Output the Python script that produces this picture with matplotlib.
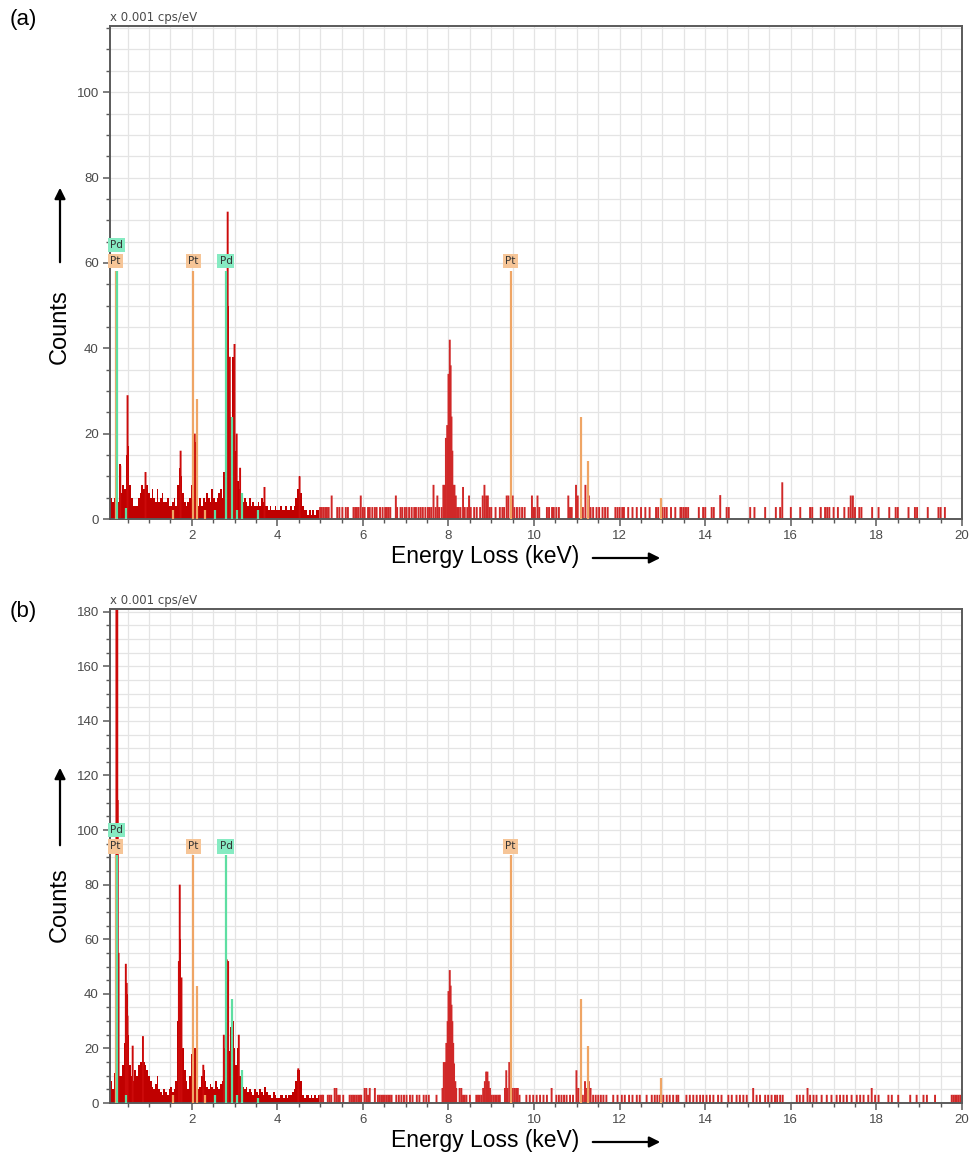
import numpy as np
import matplotlib
matplotlib.use("Agg")
import matplotlib.pyplot as plt
from matplotlib.patches import FancyArrowPatch
from matplotlib.ticker import MultipleLocator

plt.rcParams['font.family'] = ['Liberation Sans', 'DejaVu Sans']

# ---------------- data ----------------
CONT_START = 0.12   # keV of first continuum channel
CONT_STEP = 0.04    # keV per continuum channel

# panel (a): continuum counts 0.12 .. 4.96 keV
a_cont = [5, 4, 5, 7, 4, 13, 6, 8, 7, 15, 17, 8, 5, 3, 3, 3, 5, 6, 8, 7,
          11, 8, 6, 5, 7, 5, 4, 7, 4, 5, 6, 4, 4, 5, 3, 3, 4, 5, 3, 8,
          12, 10, 6, 4, 3, 4, 5, 8, 20, 18, 6, 3, 5, 3, 5, 4, 6, 5, 4, 7,
          5, 4, 5, 6, 7, 5, 11, 40, 50, 36, 24, 38, 22, 16, 9, 7, 6, 4, 5, 4,
          3, 5, 3, 4, 3, 3, 4, 3, 5, 4, 3, 3, 2, 3, 2, 2, 3, 2, 2, 3,
          2, 2, 3, 2, 2, 3, 2, 3, 5, 7, 10, 6, 3, 2, 2, 1, 2, 1, 2, 1,
          2, 2]
# panel (a): single-channel spikes
a_spike_keV = [0.33, 0.50, 0.92, 1.74, 2.03, 2.07, 2.82, 2.84, 2.89, 3.00,
               3.05, 3.13, 3.70, 4.52]
a_spike_cts = [12.5, 29, 11, 16, 23, 20, 54, 72, 38, 41, 20, 12, 7.5, 10]
# panel (a): channels above 5 keV (keV, counts)
a_tail = [(5.00, 2.8), (5.04, 2.8), (5.08, 2.8), (5.12, 2.8), (5.16, 2.8), (5.20, 2.8),
          (5.27, 5.5), (5.40, 2.8), (5.45, 2.8), (5.52, 2.8), (5.60, 2.8), (5.65, 2.8),
          (5.78, 2.8), (5.82, 2.8), (5.86, 2.8), (5.90, 2.8), (5.95, 5.5), (6.00, 2.8),
          (6.04, 2.8), (6.12, 2.8), (6.16, 2.8), (6.22, 2.8), (6.28, 2.8), (6.32, 2.8),
          (6.40, 2.8), (6.46, 2.8), (6.52, 2.8), (6.56, 2.8), (6.60, 2.8), (6.64, 2.8),
          (6.77, 5.5), (6.80, 2.8), (6.88, 2.8), (6.92, 2.8), (6.98, 2.8), (7.02, 2.8),
          (7.08, 2.8), (7.14, 2.8), (7.20, 2.8), (7.24, 2.8), (7.30, 2.8), (7.35, 2.8),
          (7.40, 2.8), (7.46, 2.8), (7.52, 2.8), (7.56, 2.8), (7.60, 2.8), (7.65, 8),
          (7.70, 2.8), (7.74, 5.5), (7.78, 2.8), (7.84, 2.8), (7.88, 8), (7.91, 8),
          (7.94, 19), (7.97, 22), (8.00, 34), (8.03, 42), (8.05, 36), (8.07, 24),
          (8.09, 16), (8.11, 8), (8.14, 8), (8.17, 5.5), (8.20, 2.8), (8.24, 2.8),
          (8.28, 2.8), (8.34, 7.5), (8.38, 2.8), (8.44, 2.8), (8.48, 5.5), (8.52, 2.8),
          (8.60, 2.8), (8.66, 2.8), (8.74, 2.8), (8.80, 5.5), (8.84, 8), (8.88, 5.5),
          (8.92, 5.5), (8.96, 2.8), (9.00, 2.8), (9.10, 2.8), (9.20, 2.8), (9.26, 2.8),
          (9.30, 2.8), (9.36, 5.5), (9.40, 5.5), (9.46, 11), (9.50, 5.5), (9.54, 2.8),
          (9.60, 2.8), (9.66, 2.8), (9.72, 2.8), (9.78, 2.8), (9.95, 5.5), (9.98, 2.8),
          (10.02, 2.8), (10.08, 5.5), (10.12, 2.8), (10.30, 2.8), (10.35, 2.8), (10.42, 2.8),
          (10.46, 2.8), (10.52, 2.8), (10.58, 2.8), (10.80, 5.5), (10.84, 2.8), (10.88, 2.8),
          (10.98, 8), (11.02, 5.5), (11.10, 2.8), (11.14, 2.8), (11.20, 8), (11.28, 5.5),
          (11.32, 2.8), (11.38, 2.8), (11.46, 2.8), (11.52, 2.8), (11.60, 2.8), (11.66, 2.8),
          (11.72, 2.8), (11.90, 2.8), (11.95, 2.8), (12.00, 2.8), (12.06, 2.8), (12.10, 2.8),
          (12.20, 2.8), (12.30, 2.8), (12.40, 2.8), (12.50, 2.8), (12.60, 2.8), (12.70, 2.8),
          (12.85, 2.8), (12.90, 2.8), (13.00, 2.8), (13.05, 2.8), (13.10, 2.8), (13.20, 2.8),
          (13.30, 2.8), (13.42, 2.8), (13.45, 2.8), (13.50, 2.8), (13.55, 2.8), (13.60, 2.8),
          (13.85, 2.8), (13.95, 2.8), (14.00, 2.8), (14.15, 2.8), (14.20, 2.8), (14.35, 5.6),
          (14.50, 2.8), (14.55, 2.8), (15.05, 2.8), (15.15, 2.8), (15.40, 2.8), (15.65, 2.8),
          (15.75, 2.8), (15.80, 8.6), (16.00, 2.8), (16.22, 2.8), (16.45, 2.8), (16.50, 2.8),
          (16.70, 2.8), (16.80, 2.8), (16.85, 2.8), (16.90, 2.8), (17.00, 2.8), (17.10, 2.8),
          (17.25, 2.8), (17.35, 2.8), (17.40, 5.5), (17.45, 5.5), (17.50, 2.8), (17.60, 2.8),
          (17.65, 2.8), (17.90, 2.8), (18.05, 2.8), (18.30, 2.8), (18.45, 2.8), (18.50, 2.8),
          (18.75, 2.8), (18.90, 2.8), (18.95, 2.8), (19.20, 2.8), (19.45, 2.8), (19.50, 2.8),
          (19.60, 2.8)]

# panel (b): continuum counts 0.12 .. 4.96 keV
b_cont = [8, 5, 11, 6, 9, 10, 10, 14, 22, 40, 25, 14, 10, 8, 12, 10, 14, 15, 15, 15,
          14, 12, 10, 8, 6, 5, 7, 10, 5, 4, 3, 5, 4, 3, 5, 6, 4, 5, 8, 30,
          60, 45, 20, 12, 8, 5, 10, 18, 28, 20, 10, 5, 6, 10, 12, 8, 6, 5, 7, 6,
          5, 8, 6, 5, 7, 8, 20, 45, 45, 19, 28, 30, 20, 14, 20, 10, 8, 6, 5, 6,
          4, 5, 4, 3, 5, 4, 3, 5, 4, 3, 6, 4, 3, 3, 2, 4, 3, 2, 2, 3,
          3, 2, 3, 2, 3, 3, 4, 5, 8, 12, 12, 8, 3, 2, 3, 3, 2, 3, 2, 3,
          2, 3]
b_spike_keV = [0.24, 0.26, 0.27, 0.29, 0.46, 0.48, 0.50, 0.62, 0.86, 1.70,
               1.72, 1.76, 2.03, 2.27, 2.75, 2.82, 2.85, 2.95, 3.10, 4.49]
b_spike_cts = [181, 181, 111, 55, 51, 44, 32, 21, 24.5, 52,
               80, 46, 31.5, 14, 25, 52.6, 52, 30, 25, 12.7]
b_tail = [(5.00, 3), (5.04, 3), (5.07, 3), (5.18, 3), (5.22, 3), (5.26, 3), (5.34, 5.5),
          (5.38, 5.5), (5.42, 3), (5.46, 3), (5.54, 3), (5.69, 3), (5.73, 3), (5.77, 3),
          (5.81, 3), (5.85, 3), (5.89, 3), (5.93, 3), (5.96, 3), (6.04, 5.5), (6.08, 5.5),
          (6.12, 3), (6.16, 5.5), (6.28, 5.5), (6.35, 3), (6.39, 3), (6.43, 3), (6.47, 3),
          (6.51, 3), (6.55, 3), (6.59, 3), (6.63, 3), (6.67, 3), (6.78, 3), (6.84, 3),
          (6.90, 3), (6.96, 3), (7.02, 3), (7.10, 3), (7.16, 3), (7.26, 3), (7.32, 3),
          (7.42, 3), (7.48, 3), (7.54, 3), (7.72, 3), (7.86, 5.5), (7.89, 15), (7.92, 15),
          (7.95, 22), (7.98, 30), (8.00, 41), (8.03, 48.7), (8.05, 43), (8.07, 36),
          (8.09, 30), (8.11, 22), (8.13, 14.5), (8.16, 8), (8.18, 5.5), (8.26, 5.5),
          (8.30, 5.5), (8.34, 3), (8.38, 3), (8.42, 3), (8.50, 3), (8.65, 3), (8.69, 3),
          (8.73, 3), (8.77, 3), (8.81, 5.5), (8.85, 8), (8.88, 11.5), (8.91, 11.5),
          (8.94, 8), (8.97, 5.5), (9.01, 3), (9.05, 3), (9.09, 3), (9.13, 3), (9.17, 3),
          (9.20, 3), (9.32, 5.5), (9.35, 12), (9.38, 5.5), (9.42, 15), (9.46, 5.5),
          (9.50, 5.5), (9.54, 5.5), (9.58, 5.5), (9.62, 5.5), (9.66, 3), (9.82, 3),
          (9.90, 3), (9.98, 3), (10.06, 3), (10.14, 3), (10.22, 3), (10.30, 3), (10.41, 5.5),
          (10.52, 3), (10.58, 3), (10.64, 3), (10.70, 3), (10.76, 3), (10.84, 3), (10.91, 3),
          (10.99, 12), (11.03, 5.5), (11.09, 5.5), (11.14, 3), (11.19, 8), (11.23, 5.5),
          (11.28, 8), (11.32, 5.5), (11.38, 3), (11.44, 3), (11.50, 3), (11.56, 3),
          (11.62, 3), (11.69, 3), (11.85, 3), (11.95, 3), (12.05, 3), (12.12, 3),
          (12.22, 3), (12.30, 3), (12.40, 3), (12.47, 3), (12.63, 3), (12.75, 3),
          (12.82, 3), (12.88, 3), (12.94, 3), (13.02, 3), (13.10, 3), (13.17, 3),
          (13.25, 3), (13.33, 3), (13.37, 3), (13.56, 3), (13.64, 3), (13.72, 3),
          (13.80, 3), (13.88, 3), (13.95, 3), (14.03, 3), (14.11, 3), (14.19, 3),
          (14.30, 3), (14.38, 3), (14.54, 3), (14.62, 3), (14.73, 3), (14.81, 3),
          (14.89, 3), (14.97, 3), (15.12, 5.5), (15.20, 3), (15.28, 3), (15.40, 3),
          (15.47, 3), (15.55, 3), (15.63, 3), (15.68, 3), (15.75, 3), (15.81, 3),
          (16.14, 3), (16.21, 3), (16.29, 3), (16.39, 5.5), (16.45, 3), (16.53, 3),
          (16.60, 3), (16.72, 3), (16.84, 3), (16.95, 3), (17.07, 3), (17.15, 3),
          (17.23, 3), (17.31, 3), (17.42, 3), (17.54, 3), (17.62, 3), (17.70, 3),
          (17.81, 3), (17.89, 5.5), (17.97, 3), (18.05, 3), (18.28, 3), (18.36, 3),
          (18.51, 3), (18.79, 3), (18.94, 3), (19.10, 3), (19.18, 3), (19.37, 3),
          (19.76, 3), (19.80, 3), (19.84, 3), (19.88, 3), (19.92, 3), (19.96, 3)]

# element markers (keV) and their heights per panel
pt_main_keV = [0.22, 2.04, 9.45]
pd_main_keV = [0.25, 2.80]
pt_minor_keV = [2.12, 11.09, 11.26, 12.96, 1.56, 2.30]
pd_minor_keV = [2.94, 3.17, 0.47, 2.55, 3.05, 3.55]
a_main_height = 58
b_main_height = 91
a_pt_minor = [28, 24, 13.5, 5, 2, 2]
b_pt_minor = [43, 38, 21, 9, 3, 3]
a_pd_minor = [24, 6, 2.5, 2, 2, 2]
b_pd_minor = [38, 12, 3, 3, 3, 2]

x_ticks = [2, 4, 6, 8, 10, 12, 14, 16, 18, 20]

# ---------------- styling ----------------
RED = '#C00000'
RED_SPIKE = '#CC0A0A'
RED_THIN = '#D02828'
ORANGE = '#EFA565'
ORANGE_BOX = '#F6C597'
GREEN = '#5EDEA2'
GREEN_BOX = '#86EBC2'
SPINE = '#5A5A5A'
GRIDC = '#E4E4E4'
TXT = '#4A4A4A'

W, H = 971, 1156
fig = plt.figure(figsize=(W / 100, H / 100), dpi=100)


def fx(px):
    return px / W


def fy(py):
    return 1 - py / H


def draw_panel(ax, cont, spike_keV, spike_cts, tail, main_h, pt_minor, pd_minor,
               ymax, ymajor, lab_pt_y, lab_pd_left_y):
    cont_keV = CONT_START + CONT_STEP * np.arange(len(cont))
    ax.bar(cont_keV, cont, width=CONT_STEP, color=RED, linewidth=0, zorder=2)
    ax.bar(spike_keV, spike_cts, width=0.045, color=RED_SPIKE, linewidth=0,
           zorder=2, snap=False)
    t_keV = [p[0] for p in tail]
    t_cts = [p[1] for p in tail]
    ax.bar(t_keV, t_cts, width=0.045, color=RED_THIN, linewidth=0, zorder=2,
           snap=False)

    # markers
    ax.vlines(pt_minor_keV, 0, pt_minor, color=ORANGE, lw=1.6, zorder=3)
    ax.vlines(pd_minor_keV, 0, pd_minor, color=GREEN, lw=1.6, zorder=3)
    ax.vlines(pt_main_keV, 0, main_h, color=ORANGE, lw=1.6, zorder=3)
    ax.vlines(pd_main_keV, 0, main_h, color=GREEN, lw=1.6, zorder=3)

    # labels
    bb_pt = dict(boxstyle='square,pad=0.2', fc=ORANGE_BOX, ec='none')
    bb_pd = dict(boxstyle='square,pad=0.2', fc=GREEN_BOX, ec='none')
    ax.text(0.10, lab_pt_y, 'Pt', fontsize=7.5, color='#333333', ha='left',
            va='center', bbox=bb_pt, zorder=5, family='DejaVu Sans')
    ax.text(0.10, lab_pd_left_y, 'Pd', fontsize=7.5, color='#333333', ha='left',
            va='center', bbox=bb_pd, zorder=5, family='DejaVu Sans')
    for k in pt_main_keV[1:]:
        ax.text(k, lab_pt_y, 'Pt', fontsize=7.5, color='#333333', ha='center',
                va='center', bbox=bb_pt, zorder=5, family='DejaVu Sans')
    for k in pd_main_keV[1:]:
        ax.text(k, lab_pt_y, 'Pd', fontsize=7.5, color='#333333', ha='center',
                va='center', bbox=bb_pd, zorder=5, family='DejaVu Sans')

    ax.set_xlim(0.09, 20)
    ax.set_ylim(0, ymax)
    ax.set_xticks(x_ticks)
    ax.xaxis.set_minor_locator(MultipleLocator(0.5))
    ax.yaxis.set_major_locator(MultipleLocator(ymajor))
    ax.yaxis.set_minor_locator(MultipleLocator(5))
    ax.grid(which='both', color=GRIDC, lw=0.9, zorder=0)
    ax.set_axisbelow(True)
    for s in ax.spines.values():
        s.set_color(SPINE)
        s.set_linewidth(1.4)
    ax.tick_params(which='major', direction='out', length=5, width=1.1,
                   color=SPINE, labelcolor=TXT, labelsize=9.5, pad=3)
    ax.tick_params(which='minor', direction='out', length=3, width=1.0,
                   color=SPINE)
    ax.text(0.0, 1.004, 'x 0.001 cps/eV', transform=ax.transAxes, fontsize=8.5,
            color=TXT, ha='left', va='bottom', family='DejaVu Sans')


# axes boxes (pixel coordinates of the reference)
ax_a = fig.add_axes([fx(110), fy(519), fx(962) - fx(110), fy(26) - fy(519)])
ax_b = fig.add_axes([fx(110), fy(1103), fx(962) - fx(110), fy(609) - fy(1103)])

draw_panel(ax_a, a_cont, a_spike_keV, a_spike_cts, a_tail, a_main_height,
           a_pt_minor, a_pd_minor, 115.5, 20, 60.5, 64.2)
draw_panel(ax_b, b_cont, b_spike_keV, b_spike_cts, b_tail, b_main_height,
           b_pt_minor, b_pd_minor, 181, 20, 94, 100)

# panel letters
fig.text(fx(10), fy(20), '(a)', fontsize=16, ha='left', va='center')
fig.text(fx(10), fy(612), '(b)', fontsize=16, ha='left', va='center')

# axis titles with arrows
for (ycent, arr0, arr1) in [(327, 265, 185), (905, 848, 765)]:
    fig.text(fx(60), fy(ycent), 'Counts', fontsize=17, rotation=90,
             ha='center', va='center')
    fig.add_artist(FancyArrowPatch((fx(60), fy(arr0)), (fx(60), fy(arr1)),
                                   transform=fig.transFigure, arrowstyle='-|>',
                                   mutation_scale=16, lw=1.6, color='black'))
for (ycent, xl) in [(557, 485), (1141, 485)]:
    fig.text(fx(xl), fy(ycent), 'Energy Loss (keV)', fontsize=16.5,
             ha='center', va='center')
    fig.add_artist(FancyArrowPatch((fx(590), fy(ycent + 1)), (fx(663), fy(ycent + 1)),
                                   transform=fig.transFigure, arrowstyle='-|>',
                                   mutation_scale=16, lw=1.6, color='black'))

fig.savefig('out.png', dpi=100)
